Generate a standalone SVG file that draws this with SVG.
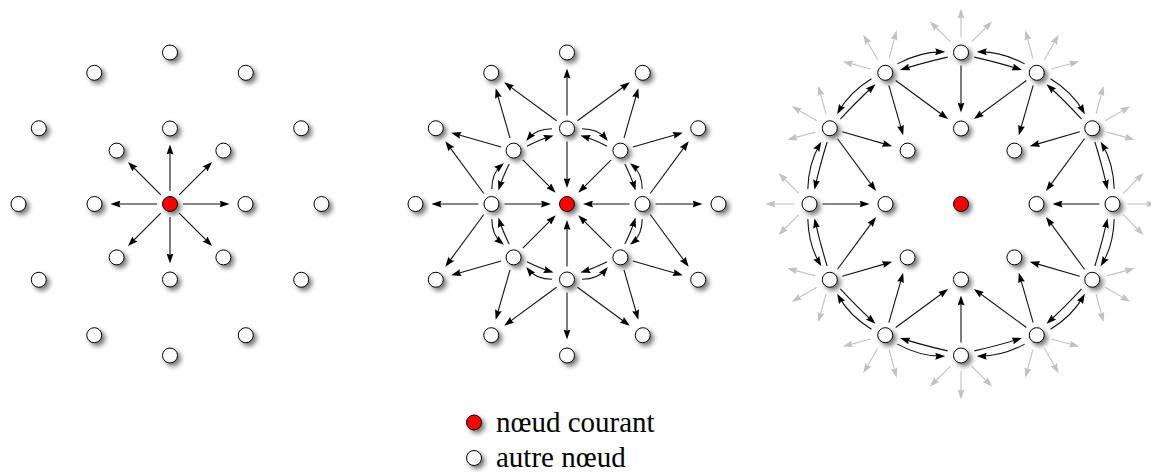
<svg xmlns="http://www.w3.org/2000/svg" width="1151" height="472" viewBox="0 0 1151 472">
<defs>
<style>
.e path{fill:none;stroke:#111;stroke-width:1.1;marker-end:url(#ah)}
.g path{fill:none;stroke:#c2c2c2;stroke-width:1.1;marker-end:url(#ahg)}
.n circle{fill:#fff;stroke:#000;stroke-width:1;filter:url(#sh)}
.n .cur{fill:#f00}
text{font-family:"Liberation Serif","Times New Roman",serif;font-size:29px;fill:#000}
</style>
<marker id="ah" viewBox="0 0 10 7" refX="7" refY="3.5" markerWidth="10" markerHeight="7" markerUnits="userSpaceOnUse" orient="auto"><path d="M0,0 L10,3.5 L0,7 L1.3,3.5 z" fill="#000"/></marker>
<marker id="ahg" viewBox="0 0 10 7" refX="7" refY="3.5" markerWidth="10" markerHeight="7" markerUnits="userSpaceOnUse" orient="auto"><path d="M0,0 L10,3.5 L0,7 L1.3,3.5 z" fill="#c2c2c2"/></marker>
<filter id="sh" x="-60%" y="-60%" width="240%" height="240%"><feGaussianBlur in="SourceAlpha" stdDeviation="2.5"/><feOffset dx="2.5" dy="2.5"/><feComponentTransfer><feFuncA type="linear" slope="0.55"/></feComponentTransfer><feMerge><feMergeNode/><feMergeNode in="SourceGraphic"/></feMerge></filter>
</defs>
<rect width="1151" height="472" fill="#fff"/>
<g id="connectors">
<g id="p1-edges" class="e">
<path d="M183,204 L226.5,204"/>
<path d="M183,204 L226.5,204" transform="rotate(-45 170 204)"/>
<path d="M183,204 L226.5,204" transform="rotate(-90 170 204)"/>
<path d="M183,204 L226.5,204" transform="rotate(-135 170 204)"/>
<path d="M183,204 L226.5,204" transform="rotate(-180 170 204)"/>
<path d="M183,204 L226.5,204" transform="rotate(-225 170 204)"/>
<path d="M183,204 L226.5,204" transform="rotate(-270 170 204)"/>
<path d="M183,204 L226.5,204" transform="rotate(-315 170 204)"/>
</g>
<g id="p2-edges" class="e">
<path d="M629.5,204 L586,204"/>
<path d="M629.5,204 L586,204" transform="rotate(-45 567 204)"/>
<path d="M629.5,204 L586,204" transform="rotate(-90 567 204)"/>
<path d="M629.5,204 L586,204" transform="rotate(-135 567 204)"/>
<path d="M629.5,204 L586,204" transform="rotate(-180 567 204)"/>
<path d="M629.5,204 L586,204" transform="rotate(-225 567 204)"/>
<path d="M629.5,204 L586,204" transform="rotate(-270 567 204)"/>
<path d="M629.5,204 L586,204" transform="rotate(-315 567 204)"/>
<g id="p2-q0">
<path d="M655.5,204 L699.5,204"/>
<path d="M650.2,193.53 L686.94,143.56"/>
<path d="M650.2,214.47 L686.94,264.44"/>
<path d="M632.88,147.02 L679.94,133.5"/>
<path d="M623.98,138.12 L637.5,91.06"/>
<path d="M642.225,188.96 Q642.07,172.904 632.358,165.135"/>
<path d="M624.822,163.928 Q631.445,177.305 634.689,187.753"/>
<path d="M642.225,219.04 Q642.07,235.096 632.358,242.865"/>
<path d="M624.822,244.072 Q631.445,230.695 634.689,220.247"/>
</g>
<g id="p2-q1" transform="rotate(-90 567 204)">
<path d="M655.5,204 L699.5,204"/>
<path d="M650.2,193.53 L686.94,143.56"/>
<path d="M650.2,214.47 L686.94,264.44"/>
<path d="M632.88,147.02 L679.94,133.5"/>
<path d="M623.98,138.12 L637.5,91.06"/>
<path d="M642.225,188.96 Q642.07,172.904 632.358,165.135"/>
<path d="M624.822,163.928 Q631.445,177.305 634.689,187.753"/>
<path d="M642.225,219.04 Q642.07,235.096 632.358,242.865"/>
<path d="M624.822,244.072 Q631.445,230.695 634.689,220.247"/>
</g>
<g id="p2-q2" transform="rotate(-180 567 204)">
<path d="M655.5,204 L699.5,204"/>
<path d="M650.2,193.53 L686.94,143.56"/>
<path d="M650.2,214.47 L686.94,264.44"/>
<path d="M632.88,147.02 L679.94,133.5"/>
<path d="M623.98,138.12 L637.5,91.06"/>
<path d="M642.225,188.96 Q642.07,172.904 632.358,165.135"/>
<path d="M624.822,163.928 Q631.445,177.305 634.689,187.753"/>
<path d="M642.225,219.04 Q642.07,235.096 632.358,242.865"/>
<path d="M624.822,244.072 Q631.445,230.695 634.689,220.247"/>
</g>
<g id="p2-q3" transform="rotate(-270 567 204)">
<path d="M655.5,204 L699.5,204"/>
<path d="M650.2,193.53 L686.94,143.56"/>
<path d="M650.2,214.47 L686.94,264.44"/>
<path d="M632.88,147.02 L679.94,133.5"/>
<path d="M623.98,138.12 L637.5,91.06"/>
<path d="M642.225,188.96 Q642.07,172.904 632.358,165.135"/>
<path d="M624.822,163.928 Q631.445,177.305 634.689,187.753"/>
<path d="M642.225,219.04 Q642.07,235.096 632.358,242.865"/>
<path d="M624.822,244.072 Q631.445,230.695 634.689,220.247"/>
</g>
</g>
<g id="p3-gray" class="g">
<g><path d="M1127.5,204 L1153.5,204"/><path d="M1123.11,193.39 L1141.49,175.01"/><path d="M1123.11,214.61 L1141.49,232.99"/></g>
<g transform="rotate(-30 961 204)"><path d="M1127.5,204 L1153.5,204"/><path d="M1123.11,193.39 L1141.49,175.01"/><path d="M1123.11,214.61 L1141.49,232.99"/></g>
<g transform="rotate(-60 961 204)"><path d="M1127.5,204 L1153.5,204"/><path d="M1123.11,193.39 L1141.49,175.01"/><path d="M1123.11,214.61 L1141.49,232.99"/></g>
<g transform="rotate(-90 961 204)"><path d="M1127.5,204 L1153.5,204"/><path d="M1123.11,193.39 L1141.49,175.01"/><path d="M1123.11,214.61 L1141.49,232.99"/></g>
<g transform="rotate(-120 961 204)"><path d="M1127.5,204 L1153.5,204"/><path d="M1123.11,193.39 L1141.49,175.01"/><path d="M1123.11,214.61 L1141.49,232.99"/></g>
<g transform="rotate(-150 961 204)"><path d="M1127.5,204 L1153.5,204"/><path d="M1123.11,193.39 L1141.49,175.01"/><path d="M1123.11,214.61 L1141.49,232.99"/></g>
<g transform="rotate(-180 961 204)"><path d="M1127.5,204 L1153.5,204"/><path d="M1123.11,193.39 L1141.49,175.01"/><path d="M1123.11,214.61 L1141.49,232.99"/></g>
<g transform="rotate(-210 961 204)"><path d="M1127.5,204 L1153.5,204"/><path d="M1123.11,193.39 L1141.49,175.01"/><path d="M1123.11,214.61 L1141.49,232.99"/></g>
<g transform="rotate(-240 961 204)"><path d="M1127.5,204 L1153.5,204"/><path d="M1123.11,193.39 L1141.49,175.01"/><path d="M1123.11,214.61 L1141.49,232.99"/></g>
<g transform="rotate(-270 961 204)"><path d="M1127.5,204 L1153.5,204"/><path d="M1123.11,193.39 L1141.49,175.01"/><path d="M1123.11,214.61 L1141.49,232.99"/></g>
<g transform="rotate(-300 961 204)"><path d="M1127.5,204 L1153.5,204"/><path d="M1123.11,193.39 L1141.49,175.01"/><path d="M1123.11,214.61 L1141.49,232.99"/></g>
<g transform="rotate(-330 961 204)"><path d="M1127.5,204 L1153.5,204"/><path d="M1123.11,193.39 L1141.49,175.01"/><path d="M1123.11,214.61 L1141.49,232.99"/></g>
</g>
<g id="p3-edges" class="e">
<g><path d="M1099.5,204 L1055.5,204"/><path d="M1084.5,138.72 L1047.76,188.69"/><path d="M1079.71,131.84 L1032.65,145.36"/><path d="M1026.28,80.5 L976.31,117.24"/><path d="M1033.16,85.29 L1019.64,132.35"/></g>
<g transform="rotate(-90 961 204)"><path d="M1099.5,204 L1055.5,204"/><path d="M1084.5,138.72 L1047.76,188.69"/><path d="M1079.71,131.84 L1032.65,145.36"/><path d="M1026.28,80.5 L976.31,117.24"/><path d="M1033.16,85.29 L1019.64,132.35"/></g>
<g transform="rotate(-180 961 204)"><path d="M1099.5,204 L1055.5,204"/><path d="M1084.5,138.72 L1047.76,188.69"/><path d="M1079.71,131.84 L1032.65,145.36"/><path d="M1026.28,80.5 L976.31,117.24"/><path d="M1033.16,85.29 L1019.64,132.35"/></g>
<g transform="rotate(-270 961 204)"><path d="M1099.5,204 L1055.5,204"/><path d="M1084.5,138.72 L1047.76,188.69"/><path d="M1079.71,131.84 L1032.65,145.36"/><path d="M1026.28,80.5 L976.31,117.24"/><path d="M1033.16,85.29 L1019.64,132.35"/></g>
<g><path d="M1114.187,189.054 Q1113.458,163.149 1102.172,144.213"/><path d="M1094.859,142.032 Q1102.35,166.125 1106.874,186.873"/><path d="M1114.187,218.946 Q1113.458,244.851 1102.172,263.787"/><path d="M1094.859,265.968 Q1102.35,241.875 1106.874,221.127"/></g>
<g transform="rotate(-60 961 204)"><path d="M1114.187,189.054 Q1113.458,163.149 1102.172,144.213"/><path d="M1094.859,142.032 Q1102.35,166.125 1106.874,186.873"/><path d="M1114.187,218.946 Q1113.458,244.851 1102.172,263.787"/><path d="M1094.859,265.968 Q1102.35,241.875 1106.874,221.127"/></g>
<g transform="rotate(-120 961 204)"><path d="M1114.187,189.054 Q1113.458,163.149 1102.172,144.213"/><path d="M1094.859,142.032 Q1102.35,166.125 1106.874,186.873"/><path d="M1114.187,218.946 Q1113.458,244.851 1102.172,263.787"/><path d="M1094.859,265.968 Q1102.35,241.875 1106.874,221.127"/></g>
<g transform="rotate(-180 961 204)"><path d="M1114.187,189.054 Q1113.458,163.149 1102.172,144.213"/><path d="M1094.859,142.032 Q1102.35,166.125 1106.874,186.873"/><path d="M1114.187,218.946 Q1113.458,244.851 1102.172,263.787"/><path d="M1094.859,265.968 Q1102.35,241.875 1106.874,221.127"/></g>
<g transform="rotate(-240 961 204)"><path d="M1114.187,189.054 Q1113.458,163.149 1102.172,144.213"/><path d="M1094.859,142.032 Q1102.35,166.125 1106.874,186.873"/><path d="M1114.187,218.946 Q1113.458,244.851 1102.172,263.787"/><path d="M1094.859,265.968 Q1102.35,241.875 1106.874,221.127"/></g>
<g transform="rotate(-300 961 204)"><path d="M1114.187,189.054 Q1113.458,163.149 1102.172,144.213"/><path d="M1094.859,142.032 Q1102.35,166.125 1106.874,186.873"/><path d="M1114.187,218.946 Q1113.458,244.851 1102.172,263.787"/><path d="M1094.859,265.968 Q1102.35,241.875 1106.874,221.127"/></g>
</g>
</g>
<g id="nodes" class="n">
<g id="p1-c"><circle class="cur" cx="170" cy="204" r="7.5"/></g>
<g id="p1-i0"><circle cx="245.5" cy="204" r="7.5"/></g>
<g id="p1-i45"><circle cx="223.39" cy="150.61" r="7.5"/></g>
<g id="p1-i90"><circle cx="170" cy="128.5" r="7.5"/></g>
<g id="p1-i135"><circle cx="116.61" cy="150.61" r="7.5"/></g>
<g id="p1-i180"><circle cx="94.5" cy="204" r="7.5"/></g>
<g id="p1-i225"><circle cx="116.61" cy="257.39" r="7.5"/></g>
<g id="p1-i270"><circle cx="170" cy="279.5" r="7.5"/></g>
<g id="p1-i315"><circle cx="223.39" cy="257.39" r="7.5"/></g>
<g id="p1-o0"><circle cx="321.5" cy="204" r="7.5"/></g>
<g id="p1-o30"><circle cx="301.2" cy="128.25" r="7.5"/></g>
<g id="p1-o60"><circle cx="245.75" cy="72.8" r="7.5"/></g>
<g id="p1-o90"><circle cx="170" cy="52.5" r="7.5"/></g>
<g id="p1-o120"><circle cx="94.25" cy="72.8" r="7.5"/></g>
<g id="p1-o150"><circle cx="38.8" cy="128.25" r="7.5"/></g>
<g id="p1-o180"><circle cx="18.5" cy="204" r="7.5"/></g>
<g id="p1-o210"><circle cx="38.8" cy="279.75" r="7.5"/></g>
<g id="p1-o240"><circle cx="94.25" cy="335.2" r="7.5"/></g>
<g id="p1-o270"><circle cx="170" cy="355.5" r="7.5"/></g>
<g id="p1-o300"><circle cx="245.75" cy="335.2" r="7.5"/></g>
<g id="p1-o330"><circle cx="301.2" cy="279.75" r="7.5"/></g>
<g id="p2-c"><circle class="cur" cx="567" cy="204" r="7.5"/></g>
<g id="p2-i0"><circle cx="642.5" cy="204" r="7.5"/></g>
<g id="p2-i45"><circle cx="620.39" cy="150.61" r="7.5"/></g>
<g id="p2-i90"><circle cx="567" cy="128.5" r="7.5"/></g>
<g id="p2-i135"><circle cx="513.61" cy="150.61" r="7.5"/></g>
<g id="p2-i180"><circle cx="491.5" cy="204" r="7.5"/></g>
<g id="p2-i225"><circle cx="513.61" cy="257.39" r="7.5"/></g>
<g id="p2-i270"><circle cx="567" cy="279.5" r="7.5"/></g>
<g id="p2-i315"><circle cx="620.39" cy="257.39" r="7.5"/></g>
<g id="p2-o0"><circle cx="718.5" cy="204" r="7.5"/></g>
<g id="p2-o30"><circle cx="698.2" cy="128.25" r="7.5"/></g>
<g id="p2-o60"><circle cx="642.75" cy="72.8" r="7.5"/></g>
<g id="p2-o90"><circle cx="567" cy="52.5" r="7.5"/></g>
<g id="p2-o120"><circle cx="491.25" cy="72.8" r="7.5"/></g>
<g id="p2-o150"><circle cx="435.8" cy="128.25" r="7.5"/></g>
<g id="p2-o180"><circle cx="415.5" cy="204" r="7.5"/></g>
<g id="p2-o210"><circle cx="435.8" cy="279.75" r="7.5"/></g>
<g id="p2-o240"><circle cx="491.25" cy="335.2" r="7.5"/></g>
<g id="p2-o270"><circle cx="567" cy="355.5" r="7.5"/></g>
<g id="p2-o300"><circle cx="642.75" cy="335.2" r="7.5"/></g>
<g id="p2-o330"><circle cx="698.2" cy="279.75" r="7.5"/></g>
<g id="p3-c"><circle class="cur" cx="961" cy="204" r="7.5"/></g>
<g id="p3-i0"><circle cx="1036.5" cy="204" r="7.5"/></g>
<g id="p3-i45"><circle cx="1014.39" cy="150.61" r="7.5"/></g>
<g id="p3-i90"><circle cx="961" cy="128.5" r="7.5"/></g>
<g id="p3-i135"><circle cx="907.61" cy="150.61" r="7.5"/></g>
<g id="p3-i180"><circle cx="885.5" cy="204" r="7.5"/></g>
<g id="p3-i225"><circle cx="907.61" cy="257.39" r="7.5"/></g>
<g id="p3-i270"><circle cx="961" cy="279.5" r="7.5"/></g>
<g id="p3-i315"><circle cx="1014.39" cy="257.39" r="7.5"/></g>
<g id="p3-o0"><circle cx="1112.5" cy="204" r="7.5"/></g>
<g id="p3-o30"><circle cx="1092.2" cy="128.25" r="7.5"/></g>
<g id="p3-o60"><circle cx="1036.75" cy="72.8" r="7.5"/></g>
<g id="p3-o90"><circle cx="961" cy="52.5" r="7.5"/></g>
<g id="p3-o120"><circle cx="885.25" cy="72.8" r="7.5"/></g>
<g id="p3-o150"><circle cx="829.8" cy="128.25" r="7.5"/></g>
<g id="p3-o180"><circle cx="809.5" cy="204" r="7.5"/></g>
<g id="p3-o210"><circle cx="829.8" cy="279.75" r="7.5"/></g>
<g id="p3-o240"><circle cx="885.25" cy="335.2" r="7.5"/></g>
<g id="p3-o270"><circle cx="961" cy="355.5" r="7.5"/></g>
<g id="p3-o300"><circle cx="1036.75" cy="335.2" r="7.5"/></g>
<g id="p3-o330"><circle cx="1092.2" cy="279.75" r="7.5"/></g>
<g id="legend-current"><circle class="cur" cx="474" cy="422.5" r="7.5"/><text x="496" y="431.5">nœud courant</text></g>
<g id="legend-other"><circle cx="474" cy="458" r="7.5"/><text x="496" y="467">autre nœud</text></g>
</g>
</svg>
